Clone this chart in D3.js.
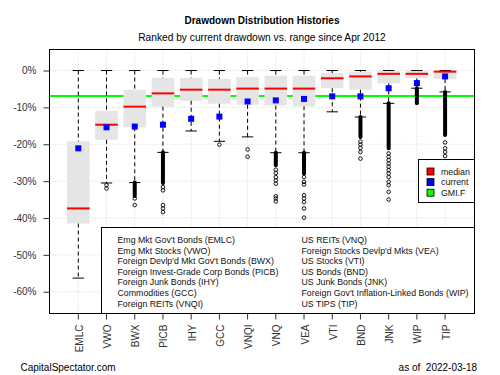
<!DOCTYPE html>
<html>
<head>
<meta charset="utf-8">
<script src="https://cdn.jsdelivr.net/npm/d3@7"></script>
<style>
  body { margin: 0; background: #fff; }
  text { font-family: "Liberation Sans", Arial, sans-serif; }
</style>
</head>
<body>
<svg id="chart"></svg>
<script>
// values (percent drawdown)
const tickers = ["EMLC", "VWO", "BWX", "PICB", "IHY", "GCC", "VNQI", "VNQ", "VEA", "VTI", "BND", "JNK", "WIP", "TIP"];
const whiskerHi = [0, 0, 0, 0, 0, 0, 0, 0, 0, 0, 0, 0, 0, 0];
const boxHi = [-19.2, -11.0, -5.2, -2.0, -2.0, -2.3, -1.8, -1.4, -1.4, -0.7, -0.3, -0.1, -0.1, 0];
const medians = [-37.4, -14.7, -9.8, -6.2, -5.2, -5.2, -4.9, -4.9, -4.9, -2.1, -1.6, -0.9, -0.9, -0.3];
const boxLo = [-41.5, -18.8, -15.4, -9.8, -8.2, -9.0, -9.3, -9.5, -9.7, -4.8, -5.2, -3.5, -2.1, -2.3];
const whiskerLo = [-56.3, -30.5, -30.4, -22.2, -16.4, -19.2, -18.0, -22.3, -22.3, -11.2, -12.6, -8.9, -4.8, -5.8];
const current = [-21.1, -15.4, -15.2, -14.7, -13.1, -12.5, -8.4, -8.1, -7.7, -7.0, -7.0, -4.8, -3.4, -1.6];
const gmiF = -6.9;

// stretches where the outlier circles pile up into a solid column
const runTop = [null, null, -30.4, -22.2, null, null, null, -22.3, -22.3, null, -12.6, -8.9, -4.8, -5.8];
const runBottom = [null, null, -34.0, -30.5, null, null, null, -25.7, -27.9, null, -18.0, -21.1, -8.9, -17.5];

// separate outlier circles
const outliers = [
    [],
    [-31.1, -32.0],
    [-34.7, -36.5],
    [-31.6, -32.5, -36.5, -37.4, -38.4],
    [],
    [-20.1],
    [-21.4, -23.4],
    [-26.9, -27.8, -28.9, -29.8, -30.7, -34.1, -34.7, -35.5],
    [-28.9, -30.2, -30.9, -33.8, -34.7, -35.7, -37.4, -39.9],
    [],
    [-19.3, -20.1, -21.0, -22.1, -23.9],
    [-22.5, -23.4, -24.3, -25.2, -26.1, -27.0, -27.9, -28.9, -30.2, -31.1, -32.9, -35.0],
    [],
    [-19.5, -21.1, -22.1, -23.2]
];

const yTicks = [0, -10, -20, -30, -40, -50, -60];
const legendKeys = ["median", "current", "GMI.F"];
const legendColors = ["#ff0000", "#0000ff", "#00ff00"];
const namesLeft = ["Emg Mkt Gov't Bonds (EMLC)", "Emg Mkt Stocks (VWO)", "Foreign Devlp'd Mkt Gov't Bonds (BWX)",
    "Foreign Invest-Grade Corp Bonds (PICB)", "Foreign Junk Bonds (IHY)", "Commodities (GCC)", "Foreign REITs (VNQI)"];
const namesRight = ["US REITs (VNQ)", "Foreign Stocks Devlp'd Mkts (VEA)", "US Stocks (VTI)", "US Bonds (BND)",
    "US Junk Bonds (JNK)", "Foreign Gov't Inflation-Linked Bonds (WIP)", "US TIPS (TIP)"];

class boxChart {

    constructor(_config) {
        this.config = {
            parentElement: _config.parentElement,
            width: 500,
            height: 375,
            plot: { left: 49.5, right: 474.5, top: 49.5, bottom: 313.5 }
        };
        this.data = tickers.map((t, i) => ({
            ticker: t, hi: whiskerHi[i], q3: boxHi[i], med: medians[i], q1: boxLo[i],
            lo: whiskerLo[i], cur: current[i], runTop: runTop[i], runBottom: runBottom[i], out: outliers[i]
        }));
        this.initVis();
    }

    initVis() {
        let vis = this;
        const p = vis.config.plot;

        vis.svg = d3.select(vis.config.parentElement)
            .attr('width', vis.config.width)
            .attr('height', vis.config.height);

        // R style: 4% padding around [0.5, n + 0.5]
        vis.x = d3.scaleBand()
            .domain(tickers)
            .range([64.2, 459.2])
            .padding(0);
        vis.y = d3.scaleLinear()
            .domain([5.7, -65.9])
            .range([p.top, p.bottom]);

        const bw = vis.x.bandwidth();
        vis.boxW = bw * 0.8;
        vis.cx = d => vis.x(d.ticker) + bw / 2;

        vis.renderVis();
    }

    renderVis() {
        let vis = this;
        const p = vis.config.plot;
        const x = vis.x, y = vis.y, cx = vis.cx, boxW = vis.boxW;

        // titles
        vis.svg.append('text')
            .attr('x', (p.left + p.right) / 2).attr('y', 24)
            .attr('text-anchor', 'middle')
            .style('font-size', '10px').style('font-weight', 'bold')
            .text('Drawdown Distribution Histories');
        vis.svg.append('text')
            .attr('x', (p.left + p.right) / 2).attr('y', 41)
            .attr('text-anchor', 'middle')
            .style('font-size', '10.2px')
            .text('Ranked by current drawdown vs. range since Apr 2012');

        // grid (dotted lightgray)
        const grid = vis.svg.append('g')
            .attr('stroke', '#d3d3d3').attr('stroke-dasharray', '1,2');
        grid.selectAll('.hg').data(yTicks).enter().append('line')
            .attr('x1', p.left).attr('x2', p.right)
            .attr('y1', d => y(d)).attr('y2', d => y(d));
        grid.selectAll('.vg').data(vis.data).enter().append('line')
            .attr('x1', cx).attr('x2', cx)
            .attr('y1', p.top).attr('y2', p.bottom);

        // GMI.F reference line
        vis.svg.append('line')
            .attr('x1', p.left).attr('x2', p.right)
            .attr('y1', y(gmiF)).attr('y2', y(gmiF))
            .attr('stroke', '#00ff00').attr('stroke-width', 2);

        const boxes = vis.svg.append('g').selectAll('g')
            .data(vis.data).enter().append('g');

        boxes.append('rect')
            .attr('x', d => cx(d) - boxW / 2)
            .attr('width', boxW)
            .attr('y', d => y(d.q3))
            .attr('height', d => y(d.q1) - y(d.q3))
            .attr('fill', '#e5e5e5');

        // dashed whiskers
        boxes.append('line')
            .attr('x1', cx).attr('x2', cx)
            .attr('y1', d => y(d.hi)).attr('y2', d => y(d.q3))
            .attr('stroke', '#000').attr('stroke-dasharray', '4,3');
        boxes.append('line')
            .attr('x1', cx).attr('x2', cx)
            .attr('y1', d => y(d.q1)).attr('y2', d => y(d.lo))
            .attr('stroke', '#000').attr('stroke-dasharray', '4,3');

        // staples
        [d => d.hi, d => d.lo].forEach(f => {
            boxes.append('line')
                .attr('x1', d => cx(d) - boxW / 4).attr('x2', d => cx(d) + boxW / 4)
                .attr('y1', d => y(f(d))).attr('y2', d => y(f(d)))
                .attr('stroke', '#000');
        });

        boxes.append('line')
            .attr('x1', d => cx(d) - boxW / 2).attr('x2', d => cx(d) + boxW / 2)
            .attr('y1', d => y(d.med)).attr('y2', d => y(d.med))
            .attr('stroke', '#ff0000').attr('stroke-width', 2);

        // outliers: solid pile-ups and single circles
        boxes.filter(d => d.runTop !== null).append('line')
            .attr('x1', cx).attr('x2', cx)
            .attr('y1', d => y(d.runTop)).attr('y2', d => y(d.runBottom))
            .attr('stroke', '#000').attr('stroke-width', 4)
            .attr('stroke-linecap', 'round');
        boxes.selectAll('circle')
            .data(d => d.out.map(v => ({ v: v, c: cx(d) })))
            .enter().append('circle')
            .attr('cx', o => o.c).attr('cy', o => y(o.v))
            .attr('r', 1.8)
            .attr('fill', 'none').attr('stroke', '#000').attr('stroke-width', 0.9);

        boxes.append('rect')
            .attr('x', d => cx(d) - 3).attr('y', d => y(d.cur) - 3)
            .attr('width', 6).attr('height', 6)
            .attr('fill', '#0000ff');

        // frame
        vis.svg.append('rect')
            .attr('x', p.left).attr('y', p.top)
            .attr('width', p.right - p.left).attr('height', p.bottom - p.top)
            .attr('fill', 'none').attr('stroke', '#000');

        // y axis
        const yAxis = d3.axisLeft(y)
            .tickValues(yTicks)
            .tickSize(6).tickPadding(7)
            .tickFormat(d => d + '%');
        const yg = vis.svg.append('g')
            .attr('transform', `translate(${p.left},0)`)
            .call(yAxis);
        yg.select('.domain').remove();
        yg.selectAll('line').attr('stroke', '#333');
        yg.selectAll('text').style('font-size', '10px').attr('fill', '#333')
            .style('font-family', '"Liberation Sans", Arial, sans-serif');

        // x axis, vertical labels
        const xAxis = d3.axisBottom(x).tickSize(6).tickPadding(0);
        const xg = vis.svg.append('g')
            .attr('transform', `translate(0,${p.bottom})`)
            .call(xAxis);
        xg.select('.domain').remove();
        xg.selectAll('line').attr('stroke', '#333');
        xg.selectAll('text')
            .style('font-size', '10px').attr('fill', '#333')
            .style('font-family', '"Liberation Sans", Arial, sans-serif')
            .attr('text-anchor', 'end')
            .attr('dy', null)
            .attr('dominant-baseline', 'central')
            .attr('transform', 'translate(1,11) rotate(-90)')
            .attr('y', 0).attr('x', 0);

        // legend (top right)
        const lg = vis.svg.append('g');
        lg.append('rect')
            .attr('x', 418.5).attr('y', 159.5).attr('width', p.right - 418.5).attr('height', 43)
            .attr('fill', '#fff').attr('stroke', '#000');
        legendKeys.forEach((k, i) => {
            const cy = 171.5 + i * 10.6;
            lg.append('rect')
                .attr('x', 427).attr('y', cy - 3.5).attr('width', 7).attr('height', 7)
                .attr('fill', legendColors[i]).attr('stroke', '#000').attr('stroke-width', 0.8);
            lg.append('text')
                .attr('x', 441).attr('y', cy).attr('dominant-baseline', 'central')
                .style('font-size', '8.8px').attr('fill', '#111')
                .text(k);
        });

        // ticker names box
        const ng = vis.svg.append('g');
        ng.append('rect')
            .attr('x', 101.5).attr('y', 227.5).attr('width', p.right - 101.5).attr('height', p.bottom - 227.5)
            .attr('fill', '#fff').attr('stroke', '#000');
        [namesLeft, namesRight].forEach((col, j) => {
            col.forEach((n, i) => {
                ng.append('text')
                    .attr('x', j === 0 ? 117.5 : 301.5)
                    .attr('y', 240 + i * 10.6)
                    .attr('dominant-baseline', 'central')
                    .style('font-size', '8.8px').attr('fill', '#111')
                    .text(n);
            });
        });

        // footer
        vis.svg.append('text')
            .attr('x', 20.5).attr('y', 371)
            .style('font-size', '10px')
            .text('CapitalSpectator.com');
        vis.svg.append('text')
            .attr('x', 477).attr('y', 371)
            .attr('text-anchor', 'end')
            .style('font-size', '10px')
            .style('white-space', 'pre')
            .text('as of  2022-03-18');
    }
}

let chart = new boxChart({ parentElement: '#chart' });
</script>
</body>
</html>
